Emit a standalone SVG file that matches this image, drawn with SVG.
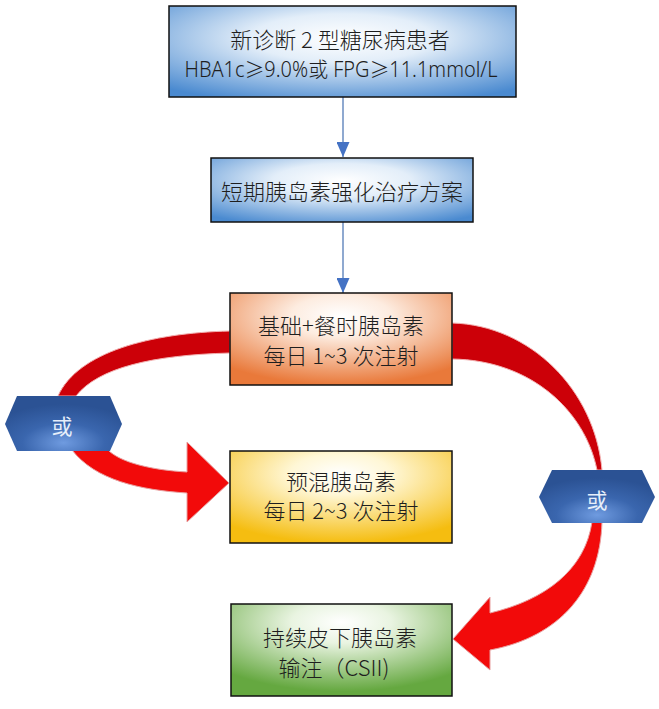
<svg xmlns="http://www.w3.org/2000/svg" width="659" height="709" viewBox="0 0 659 709">
<defs>
<radialGradient id="gBlue" cx="50%" cy="35%" r="75%">
<stop offset="0" stop-color="#ffffff"/>
<stop offset="0.35" stop-color="#e3eef9"/>
<stop offset="1" stop-color="#4a8ad0"/>
</radialGradient>
<radialGradient id="gOrange" cx="50%" cy="25%" r="75%">
<stop offset="0" stop-color="#ffffff"/>
<stop offset="0.3" stop-color="#fdece0"/>
<stop offset="1" stop-color="#e9793a"/>
</radialGradient>
<radialGradient id="gYellow" cx="50%" cy="25%" r="75%">
<stop offset="0" stop-color="#ffffff"/>
<stop offset="0.3" stop-color="#fff7d6"/>
<stop offset="1" stop-color="#f5bd10"/>
</radialGradient>
<radialGradient id="gGreen" cx="50%" cy="20%" r="75%">
<stop offset="0" stop-color="#ffffff"/>
<stop offset="0.3" stop-color="#e9f4e1"/>
<stop offset="1" stop-color="#65a840"/>
</radialGradient>
<radialGradient id="gHex" cx="50%" cy="85%" r="70%">
<stop offset="0" stop-color="#6f9be0"/>
<stop offset="0.5" stop-color="#3a66ae"/>
<stop offset="1" stop-color="#2b5294"/>
</radialGradient>
<marker id="ah" viewBox="0 0 15 13" refX="15" refY="6.5" markerWidth="15" markerHeight="13" markerUnits="userSpaceOnUse" orient="auto">
<path d="M0,0 L15,6.5 L0,13 Z" fill="#4472c4"/>
</marker>
</defs>
<style>
.box{stroke:#111;stroke-width:1.5}
.t{font-family:"Noto Sans CJK SC","Noto Sans",sans-serif;font-size:22px;font-weight:300;fill:#1e1e1e;text-anchor:middle}
.tl{font-family:"Noto Sans","Noto Sans CJK SC",sans-serif;font-size:21px;font-weight:300;fill:#1e1e1e;text-anchor:middle}
.hx{stroke:none}
.ht{font-family:"Noto Sans CJK SC","Noto Sans",sans-serif;font-size:21px;fill:#e6eefa;text-anchor:middle}
.ln{stroke:#6a8cc0;stroke-width:1.5;fill:none}
.rd{fill:#cc0008;stroke:#f2b0b0;stroke-width:1}
.rb{fill:#f20a0a;stroke:#e8a0a0;stroke-width:1}
</style>
<rect width="659" height="709" fill="#ffffff"/>
<g id="connectors">
<line class="ln" x1="343" y1="97" x2="343" y2="157" marker-end="url(#ah)"/>
<line class="ln" x1="343" y1="222" x2="343" y2="293" marker-end="url(#ah)"/>
<path class="rd" d="M230,331 C150,333 78,352 58,396 L76,396 C98,368 152,355 230,353 Z"/>
<path class="rb" d="M72,450 C95,480 140,490 187,493 L187,522 L229,483 L187,442 L187,472 C150,470 120,462 108,450 Z"/>
<path class="rd" d="M452,323 C530,325 595,390 602,470 L597,470 C585,410 530,360 452,359 Z"/>
<path class="rb" d="M602,522 C600,590 560,637 490,650 L490,670 L453,639 L490,597 L490,613 C545,600 585,570 592,522 Z"/>
</g>
<g id="n1">
<rect class="box" x="169" y="6" width="347" height="91" fill="url(#gBlue)"/>
<text class="t" x="340" y="48">新诊断 2 型糖尿病患者</text>
<text class="tl" x="341" y="77" textLength="313" lengthAdjust="spacingAndGlyphs">HBA1c≥9.0%或 FPG≥11.1mmol/L</text>
</g>
<g id="n2">
<rect class="box" x="211" y="158" width="262" height="64" fill="url(#gBlue)"/>
<text class="t" x="342" y="200">短期胰岛素强化治疗方案</text>
</g>
<g id="n3">
<rect class="box" x="230" y="293" width="222" height="92" fill="url(#gOrange)"/>
<text class="t" x="341" y="334">基础+餐时胰岛素</text>
<text class="t" x="341" y="364">每日 1~3 次注射</text>
</g>
<g id="n4">
<rect class="box" x="230" y="451" width="222" height="92" fill="url(#gYellow)"/>
<text class="t" x="341" y="490">预混胰岛素</text>
<text class="t" x="341" y="519">每日 2~3 次注射</text>
</g>
<g id="n5">
<rect class="box" x="231" y="604" width="221" height="92" fill="url(#gGreen)"/>
<text class="t" x="340" y="646">持续皮下胰岛素</text>
<text class="t" x="334" y="676">输注（CSII)</text>
</g>
<g id="or1">
<polygon class="hx" points="5,424 17,396 110,396 122,424 110,451 17,451" fill="url(#gHex)"/>
<text class="ht" x="62" y="434">或</text>
</g>
<g id="or2">
<polygon class="hx" points="539,497 552,470 642,470 655,497 642,523 552,523" fill="url(#gHex)"/>
<text class="ht" x="597" y="508">或</text>
</g>
</svg>
